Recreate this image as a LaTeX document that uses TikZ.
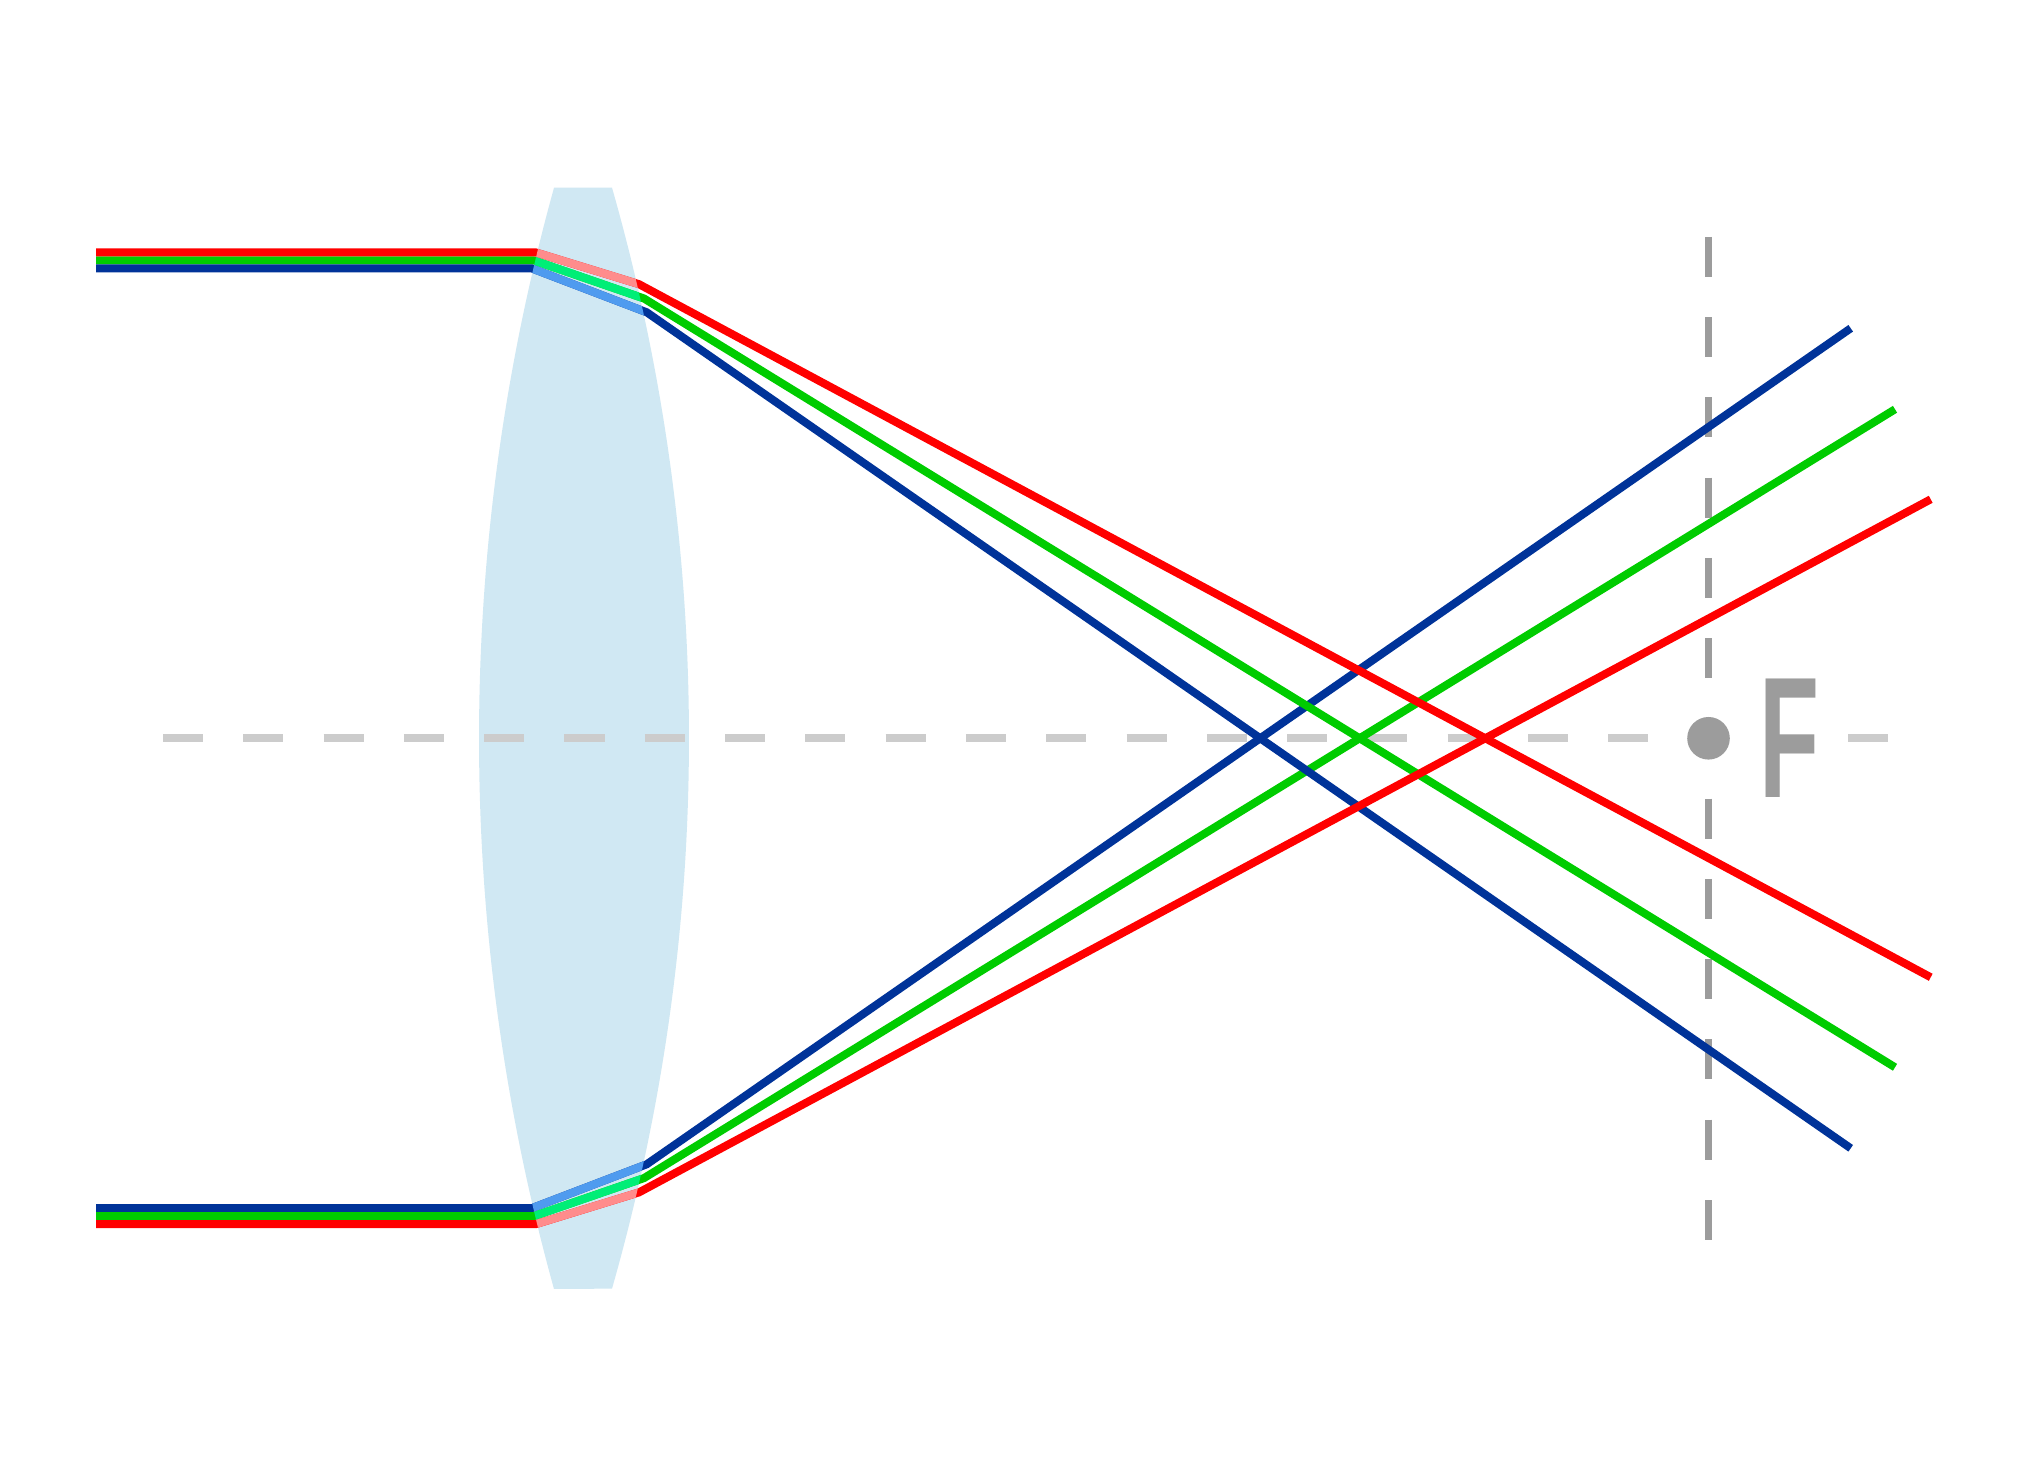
\documentclass[tikz,border=0pt]{standalone}
\usepackage{fontspec}
\setmainfont{Liberation Sans}
\definecolor{lensblue}{RGB}{208,232,243}
\definecolor{axisgray}{RGB}{204,204,204}
\definecolor{fgray}{RGB}{156,156,156}
\definecolor{rayred}{RGB}{255,0,0}
\definecolor{raygreen}{RGB}{0,204,0}
\definecolor{rayblue}{RGB}{0,51,153}
\definecolor{inred}{RGB}{255,140,140}
\definecolor{ingreen}{RGB}{0,238,119}
\definecolor{inblue}{RGB}{79,155,239}
\def\lenspath{(554,187.7) -- (612,187.7) arc[start angle=-15.92, end angle=15.92, radius=2007.1] -- (554,1289) arc[start angle=164.486, end angle=195.514, radius=2058.6] -- cycle}
\tikzset{
  ray/.style={line width=0.08cm, line join=miter},
  axisdash/.style={draw=axisgray, line width=0.08cm, dash pattern=on 0.4cm off 0.4025cm},
  focdash/.style={draw=fgray, line width=0.077cm, dash pattern=on 0.4cm off 0.4025cm}
}
\begin{document}
\begin{tikzpicture}[x=0.01cm, y=-0.01cm]
\useasboundingbox[fill=white] (0,0) rectangle (2030,1477);
% lens
\fill[lensblue] \lenspath;
% optical axis
\draw[axisdash] (163,738.3) -- (1647.5,738.3);
\draw[axisdash] (1848,738.3) -- (1888,738.3);
% focal plane
\draw[focdash] (1708.5,236.8) -- (1708.5,678.05);
\draw[focdash] (1708.5,798.55) -- (1708.5,1239.8);
% ray points (top)
\coordinate (rs) at (96,252.5);  \coordinate (ri) at (536,252.5);  \coordinate (ro) at (639,284.2);  \coordinate (re) at (1930.7,977.3);
\coordinate (gs) at (96,260.5);  \coordinate (gi) at (534,260.5);  \coordinate (go) at (644,298.5);  \coordinate (ge) at (1895,1067.3);
\coordinate (bs) at (96,268.5);  \coordinate (bi) at (532,268.5);  \coordinate (bo) at (646.7,312.3); \coordinate (be) at (1850.7,1148.3);
% ray points (bottom)
\coordinate (rs2) at (96,1224.1); \coordinate (ri2) at (536,1224.1); \coordinate (ro2) at (639,1192.4); \coordinate (re2) at (1930.7,499.3);
\coordinate (gs2) at (96,1216.1); \coordinate (gi2) at (534,1216.1); \coordinate (go2) at (644,1178.1); \coordinate (ge2) at (1895,409.3);
\coordinate (bs2) at (96,1208.1); \coordinate (bi2) at (532,1208.1); \coordinate (bo2) at (646.7,1164.3); \coordinate (be2) at (1850.7,328.3);
% rays
\draw[ray, rayblue]  (bs2) -- (bi2) -- (bo2) -- (be2);
\draw[ray, raygreen] (gs2) -- (gi2) -- (go2) -- (ge2);
\draw[ray, raygreen] (gs) -- (gi) -- (go) -- (ge);
\draw[ray, rayblue]  (bs) -- (bi) -- (bo) -- (be);
\draw[ray, rayred]   (rs) -- (ri) -- (ro) -- (re);
\draw[ray, rayred]   (rs2) -- (ri2) -- (ro2) -- (re2);
% inside the lens
\begin{scope}
\clip \lenspath;
\draw[ray, inblue]  (bs) -- (bi) -- (bo) -- (be);
\draw[ray, ingreen] (gs) -- (gi) -- (go) -- (ge);
\draw[ray, inred]   (rs) -- (ri) -- (ro) -- (re);
\draw[ray, inblue]  (bs2) -- (bi2) -- (bo2) -- (be2);
\draw[ray, ingreen] (gs2) -- (gi2) -- (go2) -- (ge2);
\draw[ray, inred]   (rs2) -- (ri2) -- (ro2) -- (re2);
\end{scope}
% focal point
\fill[fgray] (1708.5,738.3) circle[radius=21.3];
\node[anchor=base west, inner sep=0pt, text=fgray, xscale=0.57,
      font=\fontsize{49}{52}\selectfont\bfseries] (F) at (1758.8,797.3) {F};
\end{tikzpicture}
\end{document}
